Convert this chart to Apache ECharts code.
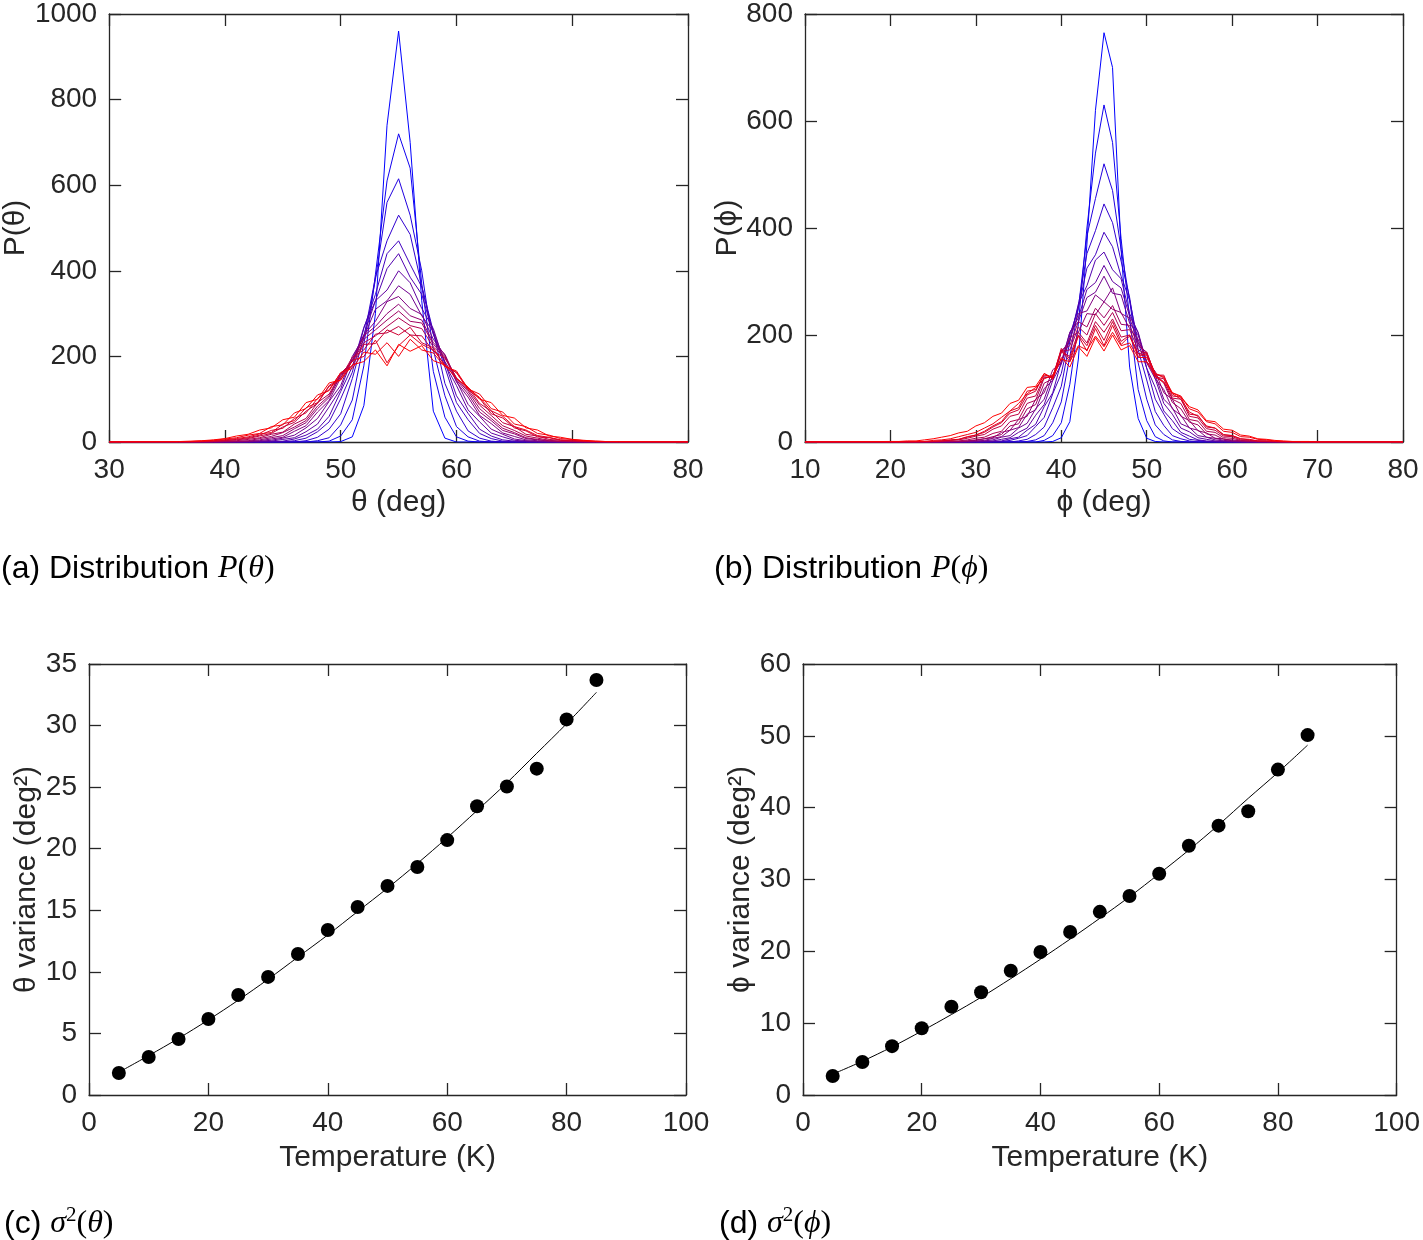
<!DOCTYPE html>
<html>
<head>
<meta charset="utf-8">
<script src="https://cdn.jsdelivr.net/npm/echarts@6/dist/echarts.min.js"></script>
<style>
html,body{margin:0;padding:0;background:#fff;}
#chart{width:1423px;height:1240px;}
</style>
</head>
<body>
<div id="chart"></div>
<script>
// ---------------- DATA ----------------
const temps = [5,10,15,20,25,30,35,40,45,50,55,60,65,70,75,80,85];

// theta bin centres (deg)
const thetaAngles = [36,37,38,39,40,41,42,43,44,45,46,47,48,49,50,51,52,53,54,55,56,57,58,59,60,61,62,63,64,65,66,67,68,69,70,71,72,73,74];
const thetaP05 = [0,0,0,0,0,0,0,0,0,0,0,0,0,0,1,12,85,300,740,960,700,330,72,9,0,0,0,0,0,0,0,0,0,0,0,0,0,0,0];
const thetaP10 = [0,0,0,0,0,0,0,0,0,0,0,0,0,2,14,52,178,392,610,720,640,370,165,58,12,2,0,0,0,0,0,0,0,0,0,0,0,0,0];
const thetaP15 = [0,0,0,0,0,0,0,0,0,0,0,0,3,10,40,98,230,380,560,615,530,400,215,108,36,12,2,0,0,0,0,0,0,0,0,0,0,0,0];
const thetaP20 = [0,0,0,0,0,0,0,0,0,0,0,3,11,30,66,148,245,385,470,530,485,365,258,137,72,26,9,2,0,0,0,0,0,0,0,0,0,0,0];
const thetaP25 = [0,0,0,0,0,0,0,0,0,0,3,9,24,47,101,163,266,345,440,470,415,362,252,175,92,52,20,8,2,0,0,0,0,0,0,0,0,0,0];
const thetaP30 = [0,0,0,0,0,0,0,0,0,2,7,16,30,60,118,176,268,330,405,440,385,345,252,186,108,67,30,14,5,2,0,0,0,0,0,0,0,0,0];
const thetaP35 = [0,0,0,0,0,0,0,0,2,6,10,24,42,82,124,195,250,330,355,400,372,312,265,182,132,75,47,21,12,4,2,0,0,0,0,0,0,0,0];
const thetaP40 = [0,0,0,0,0,0,0,2,4,9,16,33,55,95,132,200,245,310,330,365,345,295,258,188,143,88,60,30,18,7,3,1,0,0,0,0,0,0,0];
const thetaP45 = [0,0,0,0,0,0,1,3,7,11,25,38,70,97,150,190,250,282,328,340,312,298,240,203,140,105,62,43,21,13,5,3,1,0,0,0,0,0,0];
const thetaP50 = [0,0,0,0,0,1,2,5,10,15,31,45,78,104,155,188,248,270,300,322,295,285,232,205,145,112,70,50,27,19,8,5,2,1,0,0,0,0,0];
const thetaP55 = [0,0,0,0,1,2,3,8,13,22,35,50,84,108,158,190,240,262,285,306,282,278,228,200,148,118,78,55,32,22,10,6,3,1,1,0,0,0,0];
const thetaP60 = [0,0,0,1,2,3,6,10,18,23,42,55,92,112,160,188,232,248,270,290,272,265,222,198,150,122,86,62,38,27,14,9,4,2,1,1,0,0,0];
const thetaP65 = [0,0,1,1,3,5,8,14,20,35,46,72,90,132,150,198,215,252,255,270,250,248,212,196,148,128,90,72,45,36,18,14,6,4,2,1,1,0,0];
const thetaP70 = [0,0,1,2,4,6,10,16,27,32,55,68,102,122,162,178,228,230,262,250,268,232,220,178,162,122,102,66,56,33,26,12,10,4,3,2,1,0,0];
const thetaP75 = [0,1,2,3,5,8,12,19,22,42,50,80,92,130,145,190,200,238,185,225,250,228,215,180,162,126,104,73,60,36,28,15,11,5,4,2,1,1,0];
const thetaP80 = [1,1,2,4,7,10,16,20,36,40,68,78,110,120,162,172,210,205,232,200,240,215,208,176,166,124,112,78,70,42,36,20,16,8,6,3,2,1,1];
const thetaP85 = [1,2,3,5,8,14,18,28,33,52,58,92,100,138,145,180,188,215,178,228,212,225,190,180,148,128,100,92,62,56,33,28,14,11,6,4,2,1,1];

// phi bin centres (deg)
const phiAngles = [20,21,22,23,24,25,26,27,28,29,30,31,32,33,34,35,36,37,38,39,40,41,42,43,44,45,46,47,48,49,50,51,52,53,54,55,56,57,58,59,60,61,62,63,64,65,66,67,68,69,70];
const phiP05 = [0,0,0,0,0,0,0,0,0,0,0,0,0,0,0,0,0,0,0,1,8,38,155,370,620,765,700,360,140,44,7,1,0,0,0,0,0,0,0,0,0,0,0,0,0,0,0,0,0,0,0];
const phiP10 = [0,0,0,0,0,0,0,0,0,0,0,0,0,0,0,0,0,0,3,12,36,108,220,400,540,630,560,380,232,98,40,10,2,0,0,0,0,0,0,0,0,0,0,0,0,0,0,0,0,0,0];
const phiP15 = [0,0,0,0,0,0,0,0,0,0,0,0,0,0,0,0,1,4,12,36,75,160,250,385,455,520,470,360,265,148,80,32,14,4,1,0,0,0,0,0,0,0,0,0,0,0,0,0,0,0,0];
const phiP20 = [0,0,0,0,0,0,0,0,0,0,0,0,0,0,0,2,5,14,28,64,104,188,255,352,395,445,410,338,270,172,116,57,31,12,6,2,0,0,0,0,0,0,0,0,0,0,0,0,0,0,0];
const phiP25 = [0,0,0,0,0,0,0,0,0,0,0,0,0,1,3,7,12,29,46,90,128,200,250,325,350,392,365,310,265,186,138,80,52,25,14,5,3,1,0,0,0,0,0,0,0,0,0,0,0,0,0];
const phiP30 = [0,0,0,0,0,0,0,0,0,0,0,0,1,2,6,9,22,33,66,92,150,190,258,292,340,355,322,305,240,204,138,102,58,40,18,11,4,2,1,0,0,0,0,0,0,0,0,0,0,0,0];
const phiP35 = [0,0,0,0,0,0,0,0,0,0,0,1,2,5,8,18,26,50,70,115,145,205,232,285,298,330,300,288,235,205,148,118,72,52,26,19,8,5,2,1,0,0,0,0,0,0,0,0,0,0,0];
const phiP40 = [0,0,0,0,0,0,0,0,0,0,1,2,4,9,12,26,35,62,80,125,150,205,225,270,280,310,278,275,222,200,150,125,80,64,34,27,12,9,4,2,1,0,0,0,0,0,0,0,0,0,0];
const phiP45 = [0,0,0,0,0,0,0,0,0,1,2,3,7,10,22,27,52,60,100,115,168,190,240,245,275,262,288,240,232,185,165,118,98,62,50,26,22,9,7,3,2,1,0,0,0,0,0,0,0,0,0];
const phiP50 = [0,0,0,0,0,0,0,0,1,2,3,6,8,18,22,42,48,80,92,135,148,195,205,240,238,262,248,242,212,192,150,132,92,80,48,40,21,17,7,6,2,2,1,0,0,0,0,0,0,0,0];
const phiP55 = [0,0,0,0,0,0,0,1,1,2,4,6,10,14,30,34,62,70,110,118,172,180,225,215,250,232,255,220,218,180,168,124,110,74,62,37,32,15,13,5,4,2,1,1,0,0,0,0,0,0,0];
const phiP60 = [0,0,0,0,0,0,1,1,2,4,7,9,16,20,38,42,72,78,120,122,170,172,215,200,240,218,242,208,210,172,165,126,112,80,72,42,39,20,18,8,7,3,2,1,1,0,0,0,0,0,0];
const phiP65 = [0,0,0,0,0,1,2,3,4,7,11,14,24,30,48,52,82,86,122,120,168,160,205,185,225,205,230,196,200,165,162,122,118,82,80,48,45,25,22,11,10,4,3,2,1,1,0,0,0,0,0];
const phiP70 = [0,0,0,0,0,1,2,3,5,9,13,18,28,36,54,60,88,95,128,120,175,155,200,180,218,190,225,188,200,165,168,125,125,86,84,52,50,28,26,13,12,6,4,2,2,1,0,0,0,0,0];
const phiP75 = [0,0,0,0,1,1,2,4,5,10,13,20,30,38,58,64,95,98,125,122,172,150,198,170,212,180,218,182,198,160,165,128,120,90,80,56,48,30,26,14,12,6,5,2,2,1,1,0,0,0,0];
const phiP80 = [0,0,0,1,1,3,4,6,10,14,18,26,34,46,58,72,90,102,118,125,155,150,180,172,198,178,205,180,185,158,158,128,122,92,86,62,56,38,34,20,18,10,9,5,4,2,1,1,0,0,0];
const phiP85 = [1,1,2,2,4,6,9,12,17,20,30,36,48,54,72,78,102,104,128,118,158,140,178,160,195,170,200,172,180,150,150,122,112,92,84,66,60,40,38,24,22,13,11,6,5,3,2,1,1,1,0];

// variances (deg^2) vs temperature and fitted curves
const thetaVar = [1.79,3.09,4.55,6.17,8.12,9.59,11.45,13.4,15.27,16.98,18.52,20.7,23.45,25.05,26.5,30.5,33.7];
const thetaFit = [1.85,3.2,4.6,6.1,7.7,9.4,11.2,13.0,14.9,16.8,18.8,20.9,23.1,25.35,27.75,30.15,32.7];
const phiVar = [2.65,4.6,6.8,9.3,12.3,14.3,17.3,19.9,22.7,25.5,27.7,30.8,34.7,37.5,39.5,45.3,50.1];
const phiFit = [2.9,4.7,6.7,8.9,11.2,13.6,16.2,18.9,21.7,24.6,27.6,30.8,34.1,37.6,41.3,44.9,48.7];

// ---------------- CHART ----------------
const thetaCurves = [thetaP05,thetaP10,thetaP15,thetaP20,thetaP25,thetaP30,thetaP35,thetaP40,thetaP45,thetaP50,thetaP55,thetaP60,thetaP65,thetaP70,thetaP75,thetaP80,thetaP85];
const phiCurves = [phiP05,phiP10,phiP15,phiP20,phiP25,phiP30,phiP35,phiP40,phiP45,phiP50,phiP55,phiP60,phiP65,phiP70,phiP75,phiP80,phiP85];

const FONT = 'Liberation Sans, Arial, Helvetica, sans-serif';
const SERIF = 'Liberation Serif, DejaVu Serif, serif';
const AX = '#262626';

function colorFor(i, n) {
  const f = i / (n - 1);
  return 'rgb(' + Math.round(255 * f) + ',0,' + Math.round(255 * (1 - f)) + ')';
}

function plainNum(v) { return String(v); }

function xAxisPair(gi, min, max, interval, name, gap) {
  const base = {
    type: 'value', gridIndex: gi, min: min, max: max, interval: interval,
    axisLine: { show: true, onZero: false, lineStyle: { color: AX, width: 1.3 } },
    axisTick: { show: true, inside: true, length: 12, lineStyle: { color: AX, width: 1.3 } },
    splitLine: { show: false }
  };
  return [
    Object.assign({}, base, {
      position: 'bottom', name: name, nameLocation: 'middle', nameGap: gap,
      nameTextStyle: { fontFamily: FONT, fontSize: 30, color: AX },
      axisLabel: { fontFamily: FONT, fontSize: 28, color: AX, margin: 14, formatter: plainNum }
    }),
    Object.assign({}, base, { position: 'top', axisLabel: { show: false } })
  ];
}
function yAxisPair(gi, min, max, interval, name, gap) {
  const base = {
    type: 'value', gridIndex: gi, min: min, max: max, interval: interval,
    axisLine: { show: true, onZero: false, lineStyle: { color: AX, width: 1.3 } },
    axisTick: { show: true, inside: true, length: 12, lineStyle: { color: AX, width: 1.3 } },
    splitLine: { show: false }
  };
  return [
    Object.assign({}, base, {
      position: 'left', name: name, nameLocation: 'middle', nameGap: gap,
      nameTextStyle: { fontFamily: FONT, fontSize: 30, color: AX },
      axisLabel: { fontFamily: FONT, fontSize: 28, color: AX, margin: 12, formatter: plainNum }
    }),
    Object.assign({}, base, { position: 'right', axisLabel: { show: false } })
  ];
}

const xAxes = [].concat(
  xAxisPair(0, 30, 80, 10, 'θ (deg)', 46),
  xAxisPair(1, 10, 80, 10, 'ϕ (deg)', 46),
  xAxisPair(2, 0, 100, 20, 'Temperature (K)', 48),
  xAxisPair(3, 0, 100, 20, 'Temperature (K)', 48)
);
const yAxes = [].concat(
  yAxisPair(0, 0, 1000, 200, 'P(θ)', 75),
  yAxisPair(1, 0, 800, 200, 'P(ϕ)', 60),
  yAxisPair(2, 0, 35, 5, 'θ variance (deg²)', 46),
  yAxisPair(3, 0, 60, 10, 'ϕ variance (deg²)', 40)
);

const series = [];
function addDistributions(curves, angles, xMin, xMax, axisIdx) {
  curves.forEach(function (vals, i) {
    const data = [[xMin, 0]];
    angles.forEach(function (a, j) { data.push([a, vals[j]]); });
    data.push([xMax, 0]);
    series.push({
      type: 'line', name: 'T=' + temps[i] + ' K', xAxisIndex: axisIdx, yAxisIndex: axisIdx,
      data: data, symbol: 'none', smooth: false,
      lineStyle: { color: colorFor(i, curves.length), width: 1 },
      itemStyle: { color: colorFor(i, curves.length) },
      z: 2 + i * 0.01
    });
  });
}
addDistributions(thetaCurves, thetaAngles, 30, 80, 0);
addDistributions(phiCurves, phiAngles, 10, 80, 2);

function addVariance(vals, fit, axisIdx) {
  series.push({
    type: 'line', xAxisIndex: axisIdx, yAxisIndex: axisIdx,
    data: temps.map(function (t, i) { return [t, fit[i]]; }),
    symbol: 'none', smooth: 0.35, lineStyle: { color: '#000', width: 1 }, z: 2
  });
  series.push({
    type: 'scatter', xAxisIndex: axisIdx, yAxisIndex: axisIdx,
    data: temps.map(function (t, i) { return [t, vals[i]]; }),
    symbol: 'circle', symbolSize: 14, itemStyle: { color: '#000', opacity: 1 }, z: 3
  });
}
addVariance(thetaVar, thetaFit, 4);
addVariance(phiVar, phiFit, 6);

const capRich = {
  n: { fontFamily: FONT, fontSize: 32, fill: '#000', lineHeight: 38 },
  m: { fontFamily: SERIF, fontStyle: 'italic', fontSize: 32, fill: '#000', lineHeight: 38 },
  p: { fontFamily: SERIF, fontSize: 32, fill: '#000', lineHeight: 38 },
  s: { fontFamily: SERIF, fontSize: 21, fill: '#000', lineHeight: 38, verticalAlign: 'top' }
};
function caption(x, y, text) {
  return { type: 'text', left: x, top: y, silent: true,
    style: { text: text, rich: capRich, fill: '#000' } };
}

const option = {
  animation: false,
  backgroundColor: '#fff',
  grid: [
    { left: 105, top: 13, width: 583, height: 429, containLabel: false },
    { left: 805, top: 10, width: 598, height: 432, containLabel: false },
    { left: 89, top: 664, width: 597, height: 431, containLabel: false },
    { left: 803, top: 664, width: 599, height: 431, containLabel: false }
  ],
  xAxis: xAxes,
  yAxis: yAxes,
  series: series,
  graphic: [
    caption(1, 553, '{n|(a) Distribution }{m|P}{p|(}{m|θ}{p|)}'),
    caption(714, 553, '{n|(b) Distribution }{m|P}{p|(}{m|ϕ}{p|)}'),
    caption(4, 1205, '{n|(c) }{m|σ}{s|2}{p|(}{m|θ}{p|)}'),
    caption(719, 1205, '{n|(d) }{m|σ}{s|2}{p|(}{m|ϕ}{p|)}')
  ]
};

const chart = echarts.init(document.getElementById('chart'), null, { renderer: 'canvas' });
chart.setOption(option);
</script>
</body>
</html>
